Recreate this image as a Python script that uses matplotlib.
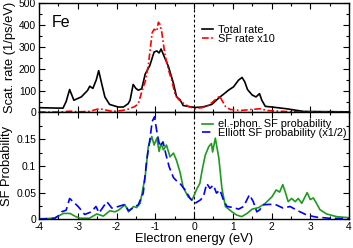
import matplotlib
matplotlib.use("Agg")
import matplotlib.pyplot as plt
from matplotlib.ticker import MultipleLocator, FixedLocator

plt.rcParams['font.family'] = ['Liberation Sans', 'DejaVu Sans']

# ---- Top panel: scattering rates ----
total_x = [-4.0, -3.5, -3.38, -3.30, -3.21, -3.10, -2.91, -2.75, -2.69, -2.61, -2.52, -2.46,
           -2.38, -2.30, -2.18, -1.96, -1.82, -1.70, -1.65, -1.57, -1.50, -1.44, -1.35, -1.26,
           -1.14, -1.03, -0.96, -0.90, -0.85, -0.77, -0.66, -0.53, -0.45, -0.36, -0.28, -0.10,
           0.03, 0.21, 0.33, 0.46, 0.67, 0.76, 0.89, 1.02, 1.15, 1.24, 1.31, 1.38, 1.50, 1.60,
           1.69, 1.75, 1.84, 2.01, 2.39, 2.82, 3.3, 4.0]
total_y = [22, 20, 20, 50, 105, 56, 71, 100, 120, 110, 150, 191,
           130, 71, 37, 25, 25, 40, 56, 128, 110, 102, 108, 175,
           215, 276, 281, 272, 290, 256, 210, 133, 71, 58, 32, 26,
           23, 25, 30, 37, 71, 83, 102, 117, 148, 160, 140, 105, 80, 71,
           86, 56, 28, 25, 17, 5, 4, 3]

sf_x = [-4.0, -3.5, -3.2, -3.0, -2.7, -2.5, -2.43, -2.3, -2.1, -1.87, -1.7, -1.52, -1.44,
        -1.31, -1.26, -1.18, -1.08, -1.03, -0.96, -0.92, -0.88, -0.83, -0.75, -0.66, -0.58,
        -0.49, -0.40, -0.32, -0.15, 0.03, 0.2, 0.33, 0.46, 0.56, 0.66, 0.72, 0.81, 0.93,
        1.19, 1.5, 1.7, 1.9, 2.3, 2.8, 4.0]
sf_y = [2, 2, 6, 3, 5, 15, 17, 12, 5, 9, 15, 28, 40,
        117, 140, 214, 364, 380, 372, 412, 403, 364, 264, 195, 150,
        85, 60, 48, 28, 17, 22, 28, 45, 60, 75, 56, 28, 14,
        9, 14, 17, 9, 5, 2, 1]

# ---- Bottom panel: spin-flip probabilities ----
ep_x = [-4.0, -3.6, -3.45, -3.37, -3.2, -3.05, -2.94, -2.7, -2.51, -2.34, -2.17, -2.04, -1.95,
        -1.78, -1.69, -1.56, -1.48, -1.39, -1.26, -1.18, -1.09, -1.03, -0.96, -0.90, -0.85,
        -0.79, -0.71, -0.62, -0.53, -0.45, -0.36, -0.28, -0.15, -0.05, 0.08, 0.15, 0.21, 0.29,
        0.38, 0.45, 0.48, 0.55, 0.64, 0.72, 0.81, 0.98, 1.10, 1.23, 1.37, 1.50, 1.67, 1.84,
        2.01, 2.12, 2.21, 2.29, 2.36, 2.43, 2.52, 2.61, 2.69, 2.78, 2.92, 3.00, 3.08, 3.16,
        3.25, 3.42, 3.68, 4.0]
ep_y = [0.001, 0.002, 0.008, 0.011, 0.011, 0.005, 0.002, 0.002, 0.010, 0.006, 0.016, 0.014, 0.017,
        0.027, 0.014, 0.024, 0.022, 0.030, 0.080, 0.136, 0.155, 0.139, 0.152, 0.127, 0.142,
        0.130, 0.139, 0.117, 0.124, 0.110, 0.088, 0.060, 0.042, 0.036, 0.058, 0.067, 0.092, 0.120,
        0.136, 0.142, 0.126, 0.152, 0.115, 0.058, 0.024, 0.014, 0.008, 0.005, 0.011, 0.019, 0.022, 0.030,
        0.042, 0.055, 0.051, 0.065, 0.050, 0.033, 0.039, 0.033, 0.039, 0.030, 0.050, 0.037, 0.040, 0.030,
        0.018, 0.010, 0.005, 0.003]

el_x = [-4.0, -3.6, -3.51, -3.42, -3.30, -3.21, -3.12, -2.99, -2.82, -2.65, -2.53, -2.45, -2.25,
        -2.12, -1.95, -1.78, -1.69, -1.60, -1.52, -1.44, -1.31, -1.22, -1.14, -1.08, -1.02,
        -0.95, -0.88, -0.80, -0.72, -0.64, -0.53, -0.45, -0.36, -0.23, -0.10, 0.03, 0.16, 0.24,
        0.33, 0.41, 0.50, 0.58, 0.67, 0.76, 0.85, 1.02, 1.15, 1.28, 1.43, 1.53, 1.62, 1.70,
        1.78, 1.95, 2.12, 2.30, 2.48, 2.65, 2.91, 3.16, 3.5, 4.0]
el_y = [0.0, 0.002, 0.006, 0.014, 0.017, 0.039, 0.033, 0.024, 0.009, 0.014, 0.024, 0.012, 0.033,
        0.021, 0.024, 0.028, 0.016, 0.020, 0.024, 0.027, 0.049, 0.111, 0.149, 0.183, 0.192,
        0.160, 0.136, 0.145, 0.120, 0.098, 0.078, 0.072, 0.067, 0.055, 0.039, 0.030, 0.036, 0.042,
        0.067, 0.058, 0.064, 0.049, 0.055, 0.036, 0.024, 0.022, 0.019, 0.024, 0.046, 0.033, 0.014, 0.018,
        0.027, 0.028, 0.027, 0.021, 0.024, 0.017, 0.008, 0.004, 0.002, 0.001]

top_yticks = [0, 100, 200, 300, 400, 500]
bot_yticks = [0, 0.05, 0.1, 0.15]
bot_yticklabels = ["0", "0.05", "0.1", "0.15"]
xticks = [-4, -3, -2, -1, 0, 1, 2, 3, 4]
xticklabels = ["-4", "-3", "-2", "-1", "0", "1", "2", "3", "4"]

fig = plt.figure(figsize=(3.53, 2.48), dpi=100)
ax1 = fig.add_axes([0.1105, 0.5464, 0.8782, 0.4415])
ax2 = fig.add_axes([0.1105, 0.1157, 0.8782, 0.4307])

fs = 7.4      # tick labels
lfs = 9.3     # axis labels
gfs = 7.9     # legend
for ax in (ax1, ax2):
    ax.set_xlim(-4, 4)
    ax.xaxis.set_major_locator(FixedLocator(xticks))
    ax.xaxis.set_minor_locator(MultipleLocator(0.5))
    ax.tick_params(which='both', direction='in', top=True, right=True, labelsize=fs, pad=2)
    ax.tick_params(which='major', length=4, width=0.8)
    ax.tick_params(which='minor', length=2, width=0.8)
    ax.axvline(0, color='black', ls=(0, (2.5, 2)), lw=0.8)
    for s in ax.spines.values():
        s.set_linewidth(1.0)

ax1.plot(total_x, total_y, color='black', lw=1.2, label='Total rate')
ax1.plot(sf_x, sf_y, color='#ff0000', lw=1.2, ls=(0, (4, 1.5, 1, 1.5)), label='SF rate x10')
ax1.set_ylim(0, 500)
ax1.set_yticks(top_yticks)
ax1.yaxis.set_minor_locator(MultipleLocator(50))
ax1.tick_params(axis='x', labelbottom=False)
ax1.set_ylabel('Scat. rate (1/ps/eV)', fontsize=lfs, labelpad=2)
ax1.text(0.042, 0.78, 'Fe', transform=ax1.transAxes, fontsize=11.5, va='baseline')
ax1.legend(loc='upper left', bbox_to_anchor=(0.525, 0.80), frameon=False, fontsize=gfs,
           handlelength=1.0, handletextpad=0.5, labelspacing=-0.1, borderaxespad=0,
           borderpad=0)

ax2.plot(ep_x, ep_y, color='#1e9a1e', lw=1.2, label='el.-phon. SF probability')
ax2.plot(el_x, el_y, color='#0000ff', lw=1.2, ls=(0, (5, 2.5)), label='Elliott SF probability (x1/2)')
ax2.set_ylim(0, 0.2)
ax2.set_yticks(bot_yticks)
ax2.set_yticklabels(bot_yticklabels)
ax2.yaxis.set_minor_locator(MultipleLocator(0.025))
ax2.set_xticklabels(xticklabels)
ax2.set_xlabel('Electron energy (eV)', fontsize=lfs, labelpad=1.0)
ax2.set_ylabel('SF Probability', fontsize=lfs, labelpad=2)
ax2.legend(loc='upper left', bbox_to_anchor=(0.525, 0.935), frameon=False, fontsize=gfs,
           handlelength=1.0, handletextpad=0.5, labelspacing=-0.1, borderaxespad=0,
           borderpad=0)

fig.savefig('out.png', dpi=100)
